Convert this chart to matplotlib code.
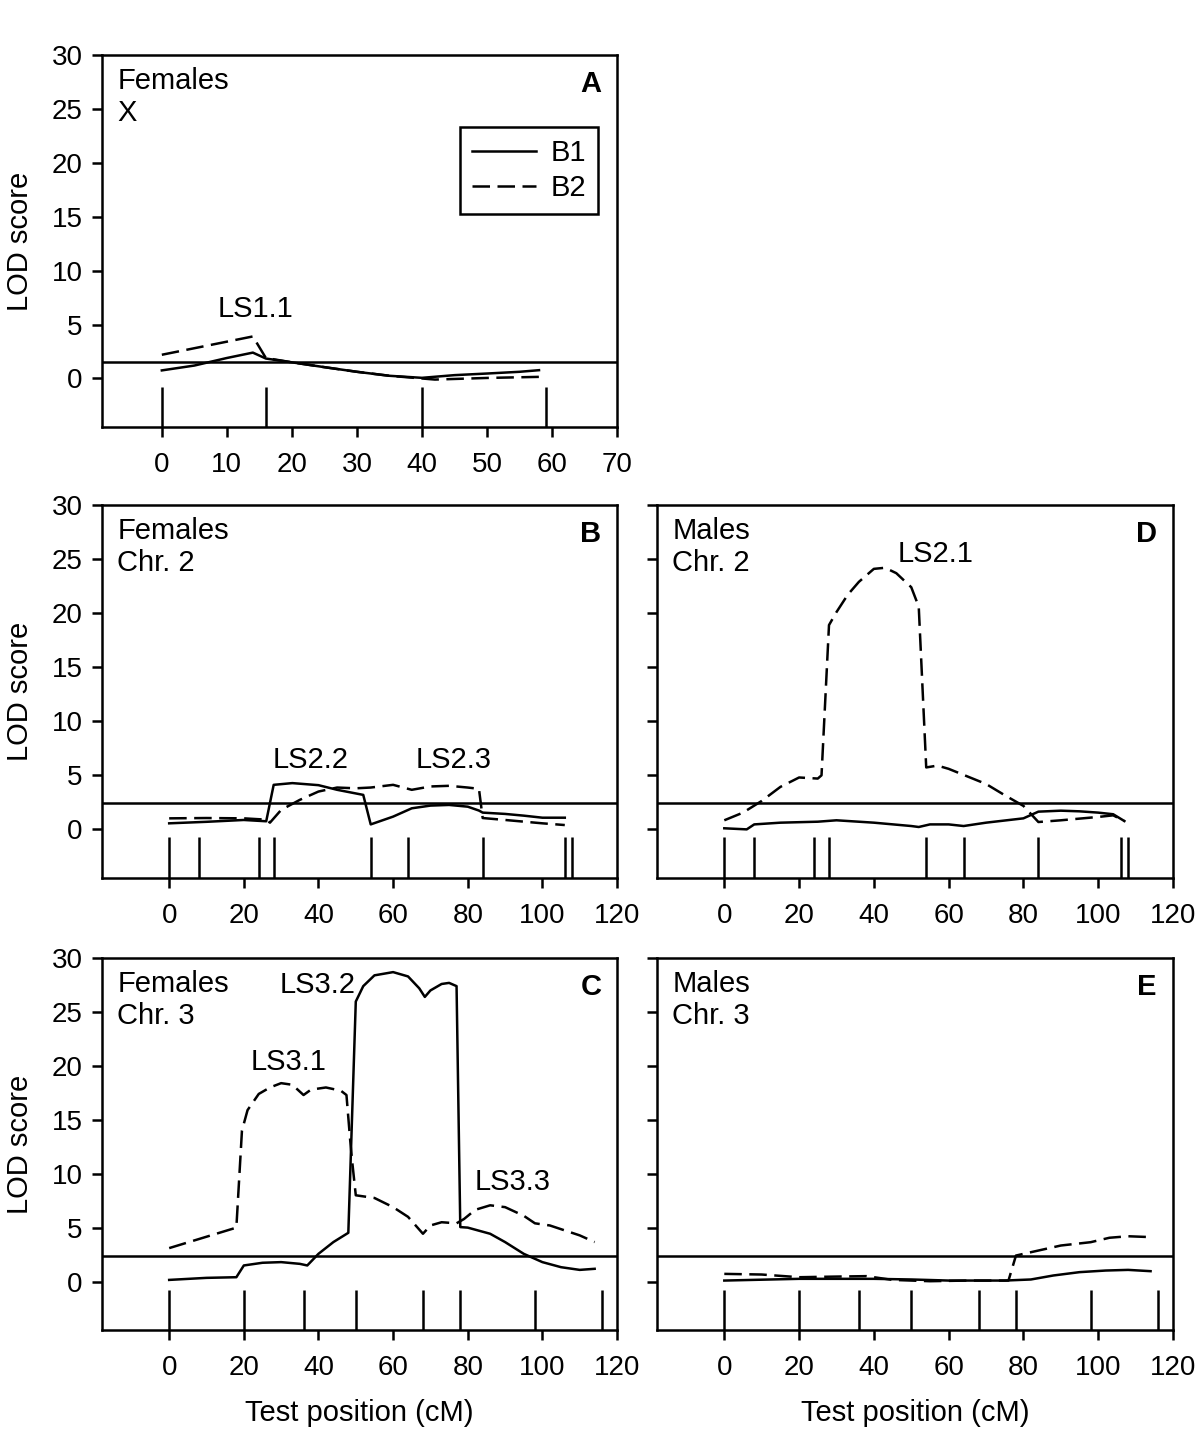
import matplotlib
matplotlib.use('Agg')
import matplotlib.pyplot as plt

plt.rcParams['font.family'] = ['Liberation Sans', 'DejaVu Sans']
plt.rcParams['font.size'] = 20

# ---------------- data ----------------
markers_X = [0, 16, 40, 59]
markers_chr2 = [0, 8, 24, 28, 54, 64, 84, 106, 108]
markers_chr3 = [0, 20, 36, 50, 68, 78, 98, 116]

threshold_A = 1.55
threshold_BCDE = 2.4

# Panel A: Females, X
A_b1_x = [0, 5, 10, 14, 16, 20, 25, 30, 35, 40, 45, 50, 55, 58]
A_b1_y = [0.75, 1.2, 1.9, 2.4, 1.85, 1.5, 1.05, 0.62, 0.25, 0.06, 0.31, 0.46, 0.62, 0.77]
A_b2_x = [0, 14, 16, 20, 25, 30, 35, 40, 42, 50, 58]
A_b2_y = [2.2, 3.9, 1.9, 1.5, 1.05, 0.62, 0.25, 0.0, -0.1, 0.05, 0.15]

# Panel B: Females, Chr. 2
B_b1_x = [0, 10, 20, 26, 28, 33, 40, 45, 52, 54, 60, 65, 70, 75, 80, 83, 84, 90, 95, 100, 106]
B_b1_y = [0.56, 0.7, 0.87, 0.75, 4.12, 4.28, 4.09, 3.66, 3.19, 0.46, 1.18, 1.95, 2.2, 2.26, 2.1, 1.74, 1.55, 1.43, 1.27, 1.08, 1.08]
B_b2_x = [0, 10, 20, 26, 27, 30, 35, 40, 45, 50, 54, 60, 65, 70, 75, 80, 83, 84, 90, 100, 106]
B_b2_y = [1.02, 1.05, 1.02, 0.9, 0.62, 1.8, 2.73, 3.5, 3.87, 3.8, 3.87, 4.12, 3.66, 3.97, 4.03, 3.87, 3.75, 1.05, 0.87, 0.56, 0.4]

# Panel C: Females, Chr. 3
C_b1_x = [0, 10, 18, 20, 25, 30, 35, 37, 40, 44, 48, 50, 52, 55, 60, 64, 67, 68.5, 70, 73, 75, 77,
          78, 80, 86, 90, 95, 100, 105, 110, 114]
C_b1_y = [0.15, 0.34, 0.4, 1.49, 1.74, 1.8, 1.64, 1.49, 2.57, 3.66, 4.52, 25.97, 27.4, 28.4, 28.7, 28.3, 27.2, 26.4, 27.0, 27.6, 27.7, 27.4,
          5.05, 5.0, 4.43, 3.66, 2.57, 1.8, 1.33, 1.08, 1.18]
C_b2_x = [0, 18, 19.5, 21, 24, 27, 30, 33, 36, 38, 42, 46, 47.5, 48.5, 49, 50, 55, 60, 64, 68, 70, 73, 77,
          79, 82, 86, 90, 95, 98, 102, 106, 110, 114]
C_b2_y = [3.1, 5.0, 14.0, 15.9, 17.4, 18.0, 18.4, 18.25, 17.3, 17.8, 18.0, 17.7, 17.3, 13.1, 11.25, 8.0, 7.75, 6.9, 6.0, 4.43, 5.2, 5.5, 5.4,
          5.8, 6.65, 7.07, 6.9, 6.1, 5.4, 5.2, 4.74, 4.28, 3.66]

# Panel D: Males, Chr. 2
D_b1_x = [0, 6, 8, 15, 25, 30, 40, 50, 52, 55, 60, 64, 70, 80, 84, 90, 95, 100, 104, 107]
D_b1_y = [0.1, 0.0, 0.46, 0.62, 0.71, 0.84, 0.62, 0.31, 0.22, 0.46, 0.46, 0.31, 0.62, 1.02, 1.64, 1.73, 1.67, 1.55, 1.4, 0.77]
D_b2_x = [0, 5, 10, 15, 20, 25, 26, 28, 30, 33, 36, 40, 43, 46, 50, 52, 54, 57, 60, 65, 70, 75, 80, 84, 90, 100, 104, 107]
D_b2_y = [0.84, 1.55, 2.63, 3.93, 4.8, 4.7, 5.0, 18.9, 20.1, 21.7, 22.9, 24.1, 24.2, 23.7, 22.4, 20.6, 5.73, 5.9, 5.6, 4.9, 4.2, 3.16, 2.17, 0.68, 0.84, 1.15, 1.3, 0.77]

# Panel E: Males, Chr. 3
E_b1_x = [0, 20, 40, 50, 60, 75, 82, 88, 95, 102, 108, 114]
E_b1_y = [0.09, 0.25, 0.25, 0.19, 0.09, 0.09, 0.19, 0.56, 0.87, 1.02, 1.08, 0.96]
E_b2_x = [0, 10, 20, 30, 38, 45, 55, 65, 76, 78, 82, 90, 98, 103, 108, 114]
E_b2_y = [0.71, 0.65, 0.4, 0.46, 0.5, 0.15, 0.03, 0.09, 0.09, 2.41, 2.72, 3.34, 3.65, 4.06, 4.2, 4.12]

# ---------------- drawing ----------------
LW = 1.8
DASH = (0, (7, 3))

fig = plt.figure(figsize=(12, 14.3), dpi=100)


def panel(rect, xlim, xticks, markers, thr, b1x, b1y, b2x, b2y, letter, line1, line2,
          show_ylabels, ylabel, xlabel, labels):
    ax = fig.add_axes(rect)
    ax.set_xlim(*xlim)
    ax.set_ylim(-4.5, 30)
    ax.set_xticks(xticks)
    ax.set_yticks([0, 5, 10, 15, 20, 25, 30])
    if not show_ylabels:
        ax.set_yticklabels([])
    for s in ax.spines.values():
        s.set_linewidth(LW)
    ax.tick_params(axis='both', direction='out', length=7, width=LW, labelsize=20)
    ax.tick_params(axis='x', pad=11)
    ax.tick_params(axis='y', pad=7)
    ax.axhline(thr, color='black', lw=LW)
    ax.vlines(markers, -4.5, -0.75, color='black', lw=LW)
    ax.plot(b1x, b1y, color='black', lw=LW, label='B1')
    ax.plot(b2x, b2y, color='black', lw=LW, linestyle=DASH, label='B2')
    ax.text(0.949, 0.922, letter, transform=ax.transAxes, ha='center', va='center',
            fontsize=21, fontweight='bold')
    ax.text(0.03, 0.93, line1, transform=ax.transAxes, ha='left', va='center', fontsize=21)
    ax.text(0.03, 0.845, line2, transform=ax.transAxes, ha='left', va='center', fontsize=21)
    for (t, x, y) in labels:
        ax.text(x, y, t, ha='center', va='center', fontsize=21)
    if ylabel:
        box = ax.get_position()
        fig.text(20 / 1200, box.y0 + box.height / 2, 'LOD score', rotation=90,
                 ha='center', va='center', fontsize=21)
    if xlabel:
        ax.set_xlabel('Test position (cM)', fontsize=21)
        ax.xaxis.set_label_coords(0.5, -0.185)
    return ax


axA = panel([0.085, 0.7014, 0.4292, 0.2601], (-9.2, 70), range(0, 71, 10), markers_X, threshold_A,
            A_b1_x, A_b1_y, A_b2_x, A_b2_y, 'A', 'Females', 'X', True, True, False,
            [('LS1.1', 14.4, 6.4)])
leg = axA.legend(loc='upper right', bbox_to_anchor=(0.963, 0.806), frameon=True, fancybox=False,
                 edgecolor='black', fontsize=21, handlelength=2.2, handletextpad=0.5,
                 borderpad=0.4, labelspacing=0.25, borderaxespad=0, framealpha=1)
leg.get_frame().set_linewidth(LW)

panel([0.085, 0.386, 0.4292, 0.2608], (-18, 120), range(0, 121, 20), markers_chr2, threshold_BCDE,
      B_b1_x, B_b1_y, B_b2_x, B_b2_y, 'B', 'Females', 'Chr. 2', True, True, False,
      [('LS2.2', 38.0, 6.45), ('LS2.3', 76.2, 6.45)])

panel([0.085, 0.0699, 0.4292, 0.2601], (-18, 120), range(0, 121, 20), markers_chr3, threshold_BCDE,
      C_b1_x, C_b1_y, C_b2_x, C_b2_y, 'C', 'Females', 'Chr. 3', True, True, True,
      [('LS3.1', 32.1, 20.4), ('LS3.2', 39.7, 27.5), ('LS3.3', 91.9, 9.23)])

panel([0.5475, 0.386, 0.43, 0.2608], (-18, 120), range(0, 121, 20), markers_chr2, threshold_BCDE,
      D_b1_x, D_b1_y, D_b2_x, D_b2_y, 'D', 'Males', 'Chr. 2', False, False, False,
      [('LS2.1', 56.4, 25.5)])

panel([0.5475, 0.0699, 0.43, 0.2601], (-18, 120), range(0, 121, 20), markers_chr3, threshold_BCDE,
      E_b1_x, E_b1_y, E_b2_x, E_b2_y, 'E', 'Males', 'Chr. 3', False, False, True, [])

fig.savefig('out.png', dpi=100)
